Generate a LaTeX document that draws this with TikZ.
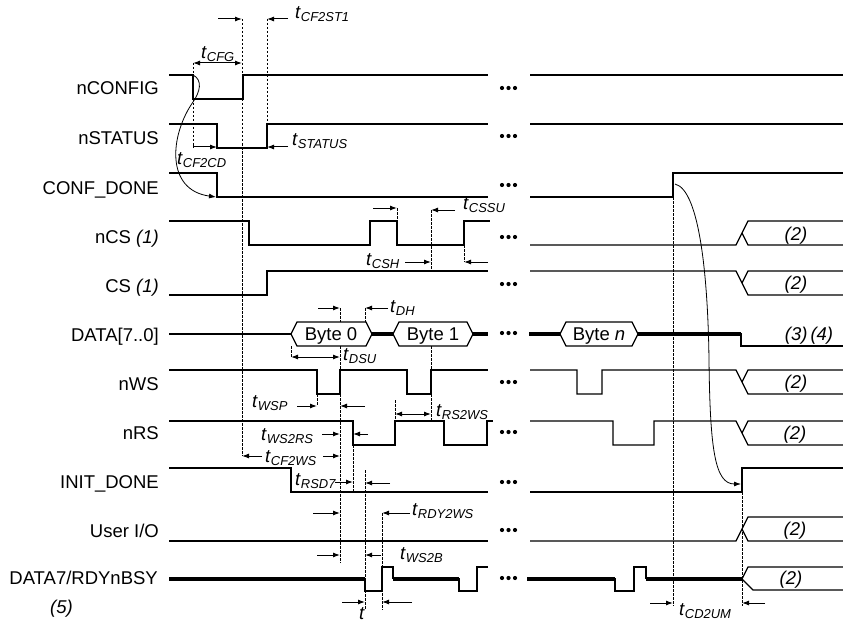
\documentclass[tikz,border=0pt]{standalone}
\usepackage{fontspec}
\setmainfont{Liberation Sans}
\usetikzlibrary{arrows.meta}
\newcommand{\tm}[1]{\textit{t}\textsubscript{\textit{#1}}}

\begin{document}
\begin{tikzpicture}[x=1pt, y=-1pt, font=\fontsize{18.5}{20}\selectfont,
        sig/.style={line width=1.15pt},
        bus/.style={line width=3.6pt},
        guide/.style={line width=1pt, dash pattern=on 2.5pt off 1.5pt},
        tarr/.style={line width=1pt, -{Latex[length=7pt,width=5pt]}},
        tdbl/.style={line width=1pt, {Latex[length=7pt,width=5pt]}-{Latex[length=7pt,width=5pt]}},
        row/.style={anchor=base east, inner sep=0pt},
        tl/.style={anchor=west, inner sep=0pt},
        note/.style={anchor=base, inner sep=0pt}]
        \useasboundingbox (0,0) rectangle (843,623);

        \node[row] (nconfig) at (159,95) {nCONFIG};
        \node[row] (nstatus) at (159,145) {nSTATUS};
        \node[row] (confdone) at (159,194) {CONF\_DONE};
        \node[row] (ncs) at (159,243) {nCS \textit{(1)}};
        \node[row] (cs) at (159,292) {CS \textit{(1)}};
        \node[row] (data) at (159,341) {DATA[7..0]};
        \node[row] (nws) at (159,390) {nWS};
        \node[row] (nrs) at (159,439) {nRS};
        \node[row] (initdone) at (159,488) {INIT\_DONE};
        \node[row] (userio) at (159,537) {User I/O};
        \node[row] (rdybsy) at (158,584) {DATA7/RDYnBSY};
        \node[anchor=base west, inner sep=0pt] (fn5) at (50,613) {\textit{(5)}};

        \draw[sig] (169,75) -- (193,75) -- (193,99) -- (243,99) -- (243,75) -- (488,75);
        \draw[sig] (530,75) -- (843,75);
        \draw[sig] (169,124) -- (217,124) -- (217,148) -- (267,148) -- (267,124) -- (488,124);
        \draw[sig] (530,124) -- (843,124);
        \draw[sig] (169,173) -- (217,173) -- (217,197) -- (488,197);
        \draw[sig] (530,197) -- (673,197) -- (673,173) -- (843,173);
        \draw[sig] (169,221) -- (249,221) -- (249,245) -- (370,245) -- (370,221) -- (397,221) -- (397,245) -- (464,245) -- (464,221) -- (490,221);
        \draw[sig] (530,245) -- (736,245) -- (748,221) -- (843,221);
        \draw[sig] (742,233) -- (748,245) -- (843,245);
        \draw[sig] (169,295) -- (267,295) -- (267,271) -- (488,271);
        \draw[sig] (530,271) -- (736,271) -- (748,295) -- (843,295);
        \draw[sig] (742,283) -- (748,271) -- (843,271);
        \draw[sig] (169,334) -- (291,334);
        \draw[sig] (291,334) -- (297,322) -- (366,322) -- (372,334) -- (366,346) -- (297,346) -- cycle;
        \draw[sig] (393,334) -- (399,322) -- (467,322) -- (473,334) -- (467,346) -- (399,346) -- cycle;
        \draw[sig] (560,334) -- (566,322) -- (632,322) -- (638,334) -- (632,346) -- (566,346) -- cycle;
        \draw[bus] (372,334) -- (393,334);
        \draw[bus] (473,334) -- (488,334);
        \draw[bus] (529,334) -- (560,334);
        \draw[bus] (638,334) -- (741,334);
        \draw[sig] (741,333) -- (741,346) -- (843,346);
        \draw[sig] (169,370) -- (317,370) -- (317,394) -- (340,394) -- (340,370) -- (407,370) -- (407,394) -- (431,394) -- (431,370) -- (488,370);
        \draw[sig] (530,370) -- (577,370) -- (577,394) -- (602,394) -- (602,370) -- (736,370) -- (748,394) -- (843,394);
        \draw[sig] (742,382) -- (748,370) -- (843,370);
        \draw[sig] (169,421) -- (353,421) -- (353,445) -- (395,445) -- (395,421) -- (444,421) -- (444,445) -- (487,445) -- (487,421) -- (493,421);
        \draw[sig] (530,421) -- (613,421) -- (613,445) -- (654,445) -- (654,421) -- (736,421) -- (748,445) -- (843,445);
        \draw[sig] (742,433) -- (748,421) -- (843,421);
        \draw[sig] (169,468) -- (291,468) -- (291,492) -- (488,492);
        \draw[sig] (530,492) -- (742,492) -- (742,468) -- (843,468);
        \draw[sig] (169,541) -- (488,541);
        \draw[sig] (530,541) -- (736,541) -- (748,517) -- (843,517);
        \draw[sig] (742,529) -- (748,541) -- (843,541);
        \draw[bus] (169,579) -- (365,579);
        \draw[sig] (365,578) -- (365,591) -- (382,591) -- (382,567) -- (393,567) -- (393,579);
        \draw[bus] (393,579) -- (459,579);
        \draw[sig] (459,578) -- (459,591) -- (477,591) -- (477,567) -- (488,567);
        \draw[bus] (527,579) -- (615,579);
        \draw[sig] (615,578) -- (615,591) -- (634,591) -- (634,567) -- (646,567) -- (646,579);
        \draw[bus] (646,579) -- (742,579);
        \draw[sig] (843,567) -- (748,567) -- (742,579) -- (753,590) -- (843,590);

        \foreach \y in {88,136,185,237,284,333,382,432,482,530,578}
            \foreach \x in {502,508.5,515}
                \fill (\x,\y) circle (2.1pt);

        \node[note] (b0) at (331,340) {Byte 0};
        \node[note] (b1) at (433,340) {Byte 1};
        \node[note] (bn) at (599,340) {Byte \textit{n}};
        \node[note] (n2a) at (796,240) {\textit{(2)}};
        \node[note] (n2b) at (796,289) {\textit{(2)}};
        \node[note] (n34) at (809,340) {\textit{(3)\,(4)}};
        \node[note] (n2c) at (796,388) {\textit{(2)}};
        \node[note] (n2d) at (795,439) {\textit{(2)}};
        \node[note] (n2e) at (795,535) {\textit{(2)}};
        \node[note] (n2f) at (791,584) {\textit{(2)}};

        \draw[guide] (193,63) -- (193,148);
        \draw[guide] (242,19) -- (242,456);
        \draw[guide] (267,19) -- (267,124);
        \draw[guide] (397,208) -- (397,221);
        \draw[guide] (431,210) -- (431,271);
        \draw[guide] (464,245) -- (464,262);
        \draw[guide] (340,308) -- (340,322);
        \draw[guide] (365,308) -- (365,322);
        \draw[guide] (291,346) -- (291,357);
        \draw[guide] (340,346) -- (340,563);
        \draw[guide] (317,394) -- (317,406);
        \draw[guide] (395,400) -- (395,421);
        \draw[guide] (431,346) -- (431,421);
        \draw[guide] (353,445) -- (353,492);
        \draw[guide] (365,470) -- (365,610);
        \draw[guide] (382,513) -- (382,610);
        \draw[guide] (673,197) -- (673,606);
        \draw[guide] (742,492) -- (742,606);

        \draw[tdbl] (193,63) -- (242,63);
        \draw[tarr] (193,147) -- (217,147);
        \draw[tarr] (218,19) -- (242,19);
        \draw[tarr] (288,19) -- (267,19);
        \draw[tarr] (288,147) -- (267,147);
        \draw[tarr] (373,208) -- (397,208);
        \draw[tarr] (455,210) -- (431,210);
        \draw[tarr] (405,262) -- (431,262);
        \draw[tarr] (488,262) -- (464,262);
        \draw[tarr] (318,308) -- (340,308);
        \draw[tarr] (388,308) -- (365,308);
        \draw[tdbl] (291,357) -- (340,357);
        \draw[tarr] (297,406) -- (317,406);
        \draw[tarr] (365,406) -- (340,406);
        \draw[tdbl] (395,414) -- (431,414);
        \draw[tarr] (322,434) -- (340,434);
        \draw[tarr] (368,434) -- (353,434);
        \draw[tarr] (262,456) -- (242,456);
        \draw[tarr] (323,456) -- (340,456);
        \draw[tarr] (335,482) -- (353,482);
        \draw[tarr] (390,483) -- (365,483);
        \draw[tarr] (313,513) -- (340,513);
        \draw[tarr] (410,513) -- (382,513);
        \draw[tarr] (317,555) -- (340,555);
        \draw[tarr] (381,555) -- (365,555);
        \draw[tarr] (342,602) -- (365,602);
        \draw[tarr] (412,602) -- (382,602);
        \draw[tarr] (650,603) -- (673,603);
        \draw[tarr] (765,603) -- (742,603);

        \draw[line width=0.8pt, -{Latex[length=7pt,width=5pt]}] (193,75) .. controls (203,80) and (200,92) .. (193,102) .. controls (170,135) and (165,190) .. (216,197);
        \draw[line width=0.8pt, -{Latex[length=7pt,width=5pt]}] (675,184) .. controls (700,190) and (708,280) .. (709,360) .. controls (710,450) and (715,484) .. (741,484);

        \node[tl] (tcf2st1) at (295,14) {\tm{CF2ST1}};
        \node[tl] (tcfg) at (201,54) {\tm{CFG}};
        \node[tl] (tcf2cd) at (177,160) {\tm{CF2CD}};
        \node[tl] (tstatus) at (292,141) {\tm{STATUS}};
        \node[tl] (tcssu) at (463,205) {\tm{CSSU}};
        \node[tl] (tcsh) at (366,261) {\tm{CSH}};
        \node[tl] (tdh) at (390,308) {\tm{DH}};
        \node[tl] (tdsu) at (343,356) {\tm{DSU}};
        \node[tl] (twsp) at (252,403) {\tm{WSP}};
        \node[tl] (trs2ws) at (436,412) {\tm{RS2WS}};
        \node[tl] (tws2rs) at (261,436) {\tm{WS2RS}};
        \node[tl] (tcf2ws) at (265,458) {\tm{CF2WS}};
        \node[tl] (trsd7) at (295,481) {\tm{RSD7}};
        \node[tl] (trdy2ws) at (412,511) {\tm{RDY2WS}};
        \node[tl] (tws2b) at (400,555) {\tm{WS2B}};
        \node[tl] (tt) at (359,614) {\textit{t}};
        \node[tl] (tcd2um) at (679,611) {\tm{CD2UM}};
    \end{tikzpicture}
\end{document}
